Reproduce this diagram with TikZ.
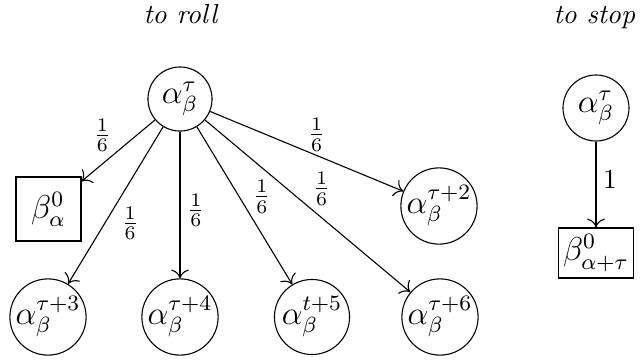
\documentclass[tikz,border=0pt]{standalone}
\usetikzlibrary{arrows.meta}
\begin{document}
\begin{tikzpicture}[x=0.3636pt,y=-0.3636pt,
  mfont/.style={font=\fontsize{11.8pt}{14pt}\selectfont},
  st/.style={circle,draw,inner sep=0pt,mfont},
  bx/.style={rectangle,draw,inner sep=0pt,mfont},
  lbl/.style={inner sep=0pt},
  arr/.style={-{To[length=3.2pt,width=6.5pt]}}]
\useasboundingbox (0,0) rectangle (641,360);
\node[anchor=base] (t1) at (181,23) {\textit{to roll}};
\node[anchor=base west,inner sep=0pt] (t2) at (553,23) {\textit{to stop}};
\node[st,minimum size=23.3pt] (r) at (180,99) {$\alpha_\beta^\tau$};
\node[bx,minimum width=23.6pt,minimum height=23.3pt] (b) at (48.5,209) {$\beta_\alpha^0$};
\node[st,minimum size=27.6pt] (c2) at (439,206) {$\alpha_\beta^{\tau+2}$};
\node[st,minimum size=27.3pt] (c3) at (48,317) {$\alpha_\beta^{\tau+3}$};
\node[st,minimum size=27.3pt] (c4) at (180,317) {$\alpha_\beta^{\tau+4}$};
\node[st,minimum size=27.3pt] (c5) at (312,317) {$\alpha_\beta^{t+5}$};
\node[st,minimum size=27.3pt] (c6) at (440,317) {$\alpha_\beta^{\tau+6}$};
\node[st,minimum size=24pt] (s) at (596,108) {$\alpha_\beta^\tau$};
\node[bx,minimum width=27.3pt,minimum height=18.2pt] (sb) at (596,253) {$\beta_{\alpha+\tau}^0$};
\draw[arr] (r) -- node[lbl,xshift=-5.8pt,yshift=5.6pt] (l1) {$\frac{1}{6}$} (b);
\draw[arr] (r) -- node[lbl,xshift=5.3pt,yshift=-6.5pt] (l3) {$\frac{1}{6}$} (c3);
\draw[arr] (r) -- node[lbl,xshift=5.8pt,yshift=-2pt] (l4) {$\frac{1}{6}$} (c4);
\draw[arr] (r) -- node[lbl,xshift=6.3pt,yshift=3.2pt] (l5) {$\frac{1}{6}$} (c5);
\draw[arr] (r) -- node[lbl,xshift=5.1pt,yshift=6.3pt] (l6) {$\frac{1}{6}$} (c6);
\draw[arr] (r) -- node[lbl,xshift=3.6pt,yshift=6pt] (l2) {$\frac{1}{6}$} (c2);
\draw[arr] (s) -- node[lbl,xshift=5.1pt,yshift=1.6pt] (l7) {$1$} (sb);
\end{tikzpicture}
\end{document}
